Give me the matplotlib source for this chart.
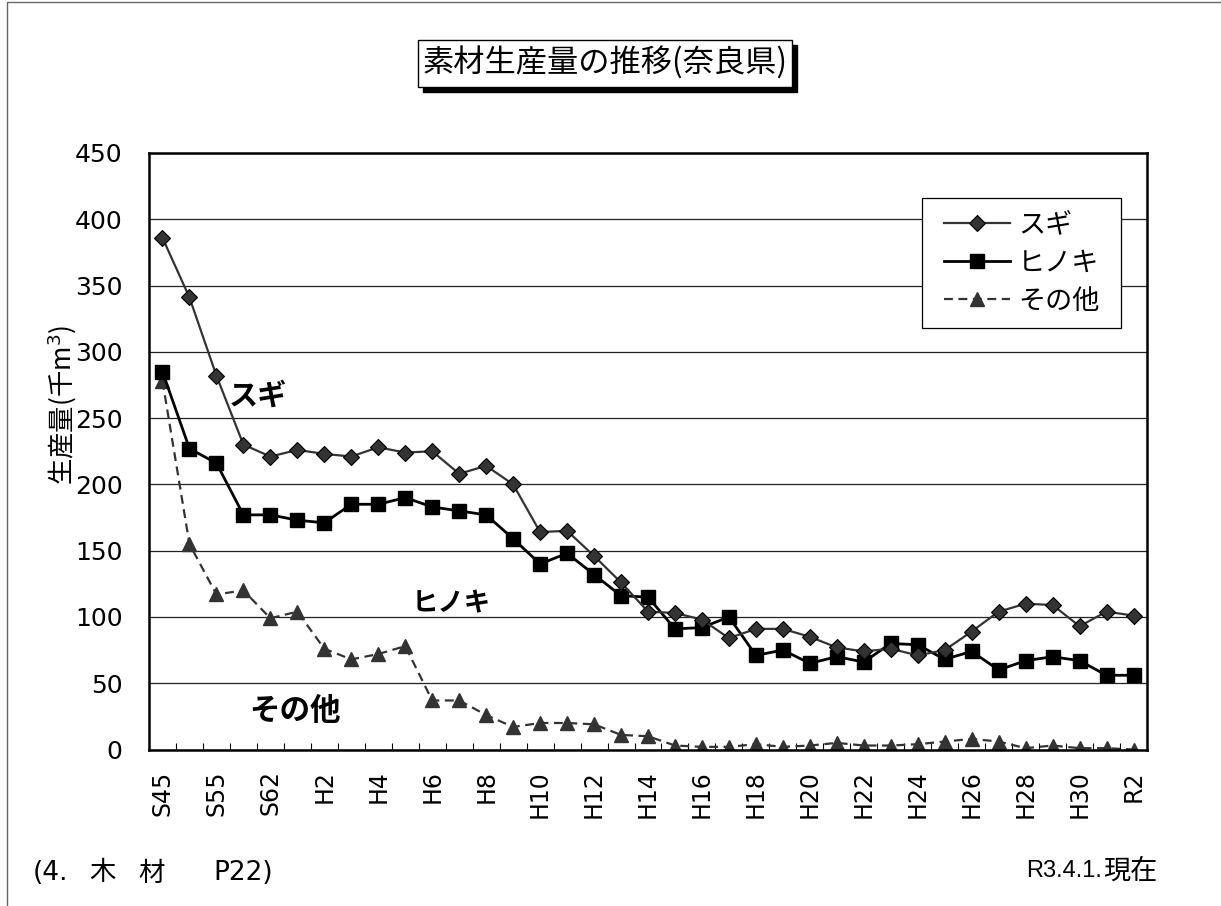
import matplotlib
matplotlib.use("Agg")
import matplotlib.pyplot as plt
from matplotlib.patches import Rectangle

plt.rcParams["font.family"] = ["DejaVu Sans", "Noto Sans CJK JP"]

W, H = 1221, 906

# 年次（ラベルは1つおきに表示）
years = ["S45", "S50", "S55", "S60", "S62", "H1", "H2", "H3", "H4", "H5",
         "H6", "H7", "H8", "H9", "H10", "H11", "H12", "H13", "H14", "H15",
         "H16", "H17", "H18", "H19", "H20", "H21", "H22", "H23", "H24", "H25",
         "H26", "H27", "H28", "H29", "H30", "R1", "R2"]

sugi = [386, 341, 282, 230, 221, 226, 223, 221, 228, 224,
        225, 208, 214, 200, 164, 165, 146, 126, 104, 103,
        98, 84, 91, 91, 85, 77, 74, 76, 71, 75,
        89, 104, 110, 109, 93, 104, 101]

hinoki = [285, 227, 216, 177, 177, 173, 171, 185, 185, 190,
          183, 180, 177, 159, 140, 148, 132, 116, 115, 91,
          92, 100, 71, 75, 65, 70, 66, 80, 79, 68,
          74, 60, 67, 70, 67, 56, 56]

sonota = [278, 155, 117, 120, 99, 104, 76, 68, 72, 78,
          37, 37, 26, 17, 20, 20, 19, 11, 10, 3,
          2, 2, 4, 2, 3, 5, 3, 3, 4, 6,
          8, 6, 1, 3, 1, 1, 0]

JP = "Noto Sans CJK JP"


def fx(x):
    return x / W


def fy(y):
    return 1 - y / H


def box(x0, y0, x1, y1, **kw):
    # rectangle given in pixel coords of the sheet (y downwards)
    fig.patches.append(Rectangle((fx(x0), fy(y1)), fx(x1) - fx(x0), fy(y0) - fy(y1),
                                 transform=fig.transFigure, **kw))


fig = plt.figure(figsize=(W / 100, H / 100), dpi=100, facecolor="white")

# outer frame of the sheet
box(7, 2, W + 10, H + 10, fill=False, edgecolor="#666666", linewidth=1.0)

ax = fig.add_axes([fx(149), fy(749.5), fx(1147) - fx(149), fy(153) - fy(749.5)])

x = list(range(len(years)))
ax.plot(x, sugi, color="#333333", linewidth=1.6, marker="D", markersize=8.5,
        markerfacecolor="#333333", markeredgecolor="black", markeredgewidth=0.8,
        label="スギ", zorder=4)
ax.plot(x, hinoki, color="black", linewidth=2.0, marker="s", markersize=10.5,
        markerfacecolor="black", markeredgecolor="black", label="ヒノキ", zorder=3)
ax.plot(x, sonota, color="#333333", linewidth=1.6, linestyle=(0, (4, 2.5)),
        marker="^", markersize=10, markerfacecolor="#333333",
        markeredgecolor="#333333", label="その他", zorder=2)

ax.set_xlim(-0.5, len(years) - 0.5)
ax.set_ylim(0, 450)
ax.set_yticks(range(0, 451, 50))
ax.yaxis.grid(True, color="#222222", linewidth=0.9)
ax.set_axisbelow(True)
ax.tick_params(axis="y", length=0, pad=19, labelsize=18)

ax.set_xticks(x[::2])
ax.set_xticklabels(years[::2], rotation=90, fontsize=17)
ax.set_xticks([i + 0.5 for i in x[:-1]], minor=True)
ax.tick_params(axis="x", which="major", length=0, pad=15)
ax.tick_params(axis="x", which="minor", direction="in", length=5, width=0.8)

for side in ["left", "bottom", "top", "right"]:
    ax.spines[side].set_linewidth(1.8)
    ax.spines[side].set_color("black")

# legend: frame drawn separately so the padding can match
box(922, 198, 1121, 328, facecolor="white", edgecolor="black", linewidth=0.9, zorder=5)
leg = ax.legend(loc="center", bbox_to_anchor=(fx(1021.5), fy(263)),
                bbox_transform=fig.transFigure, borderaxespad=0,
                prop={"family": JP, "size": 19.5}, frameon=False,
                handlelength=2.45, handletextpad=0.3, labelspacing=0.42,
                borderpad=0.2)
ax.get_legend().remove()
leg.set_zorder(6)
fig.legends.append(leg)

# series labels inside the plot
fig.text(fx(258), fy(396), "スギ", ha="center", va="center", fontsize=21,
         fontweight="bold", family=JP)
fig.text(fx(451), fy(604), "ヒノキ", ha="center", va="center", fontsize=19,
         fontweight="bold", family=JP)
fig.text(fx(295), fy(711), "その他", ha="center", va="center", fontsize=22,
         fontweight="bold", family=JP)

# y-axis label
fig.text(fx(62), fy(405), "生産量(千m$^3$)", rotation=90, ha="center", va="center",
         fontsize=19, family=[JP, "DejaVu Sans"])

# title with shadowed box
box(423, 45, 797, 92, facecolor="black", edgecolor="black", zorder=1)
box(418, 40, 792, 87, facecolor="white", edgecolor="black", linewidth=1.0, zorder=2)
fig.text(fx(605), fy(63), "素材生産量の推移(奈良県)", ha="center", va="center",
         fontsize=22.5, family=JP, zorder=3)

# footer notes
fy_note = fy(873)
fig.text(fx(33), fy_note, "(4.", ha="left", va="center", fontsize=19)
fig.text(fx(89), fy_note, "木", ha="left", va="center", fontsize=19, family=JP)
fig.text(fx(138), fy_note, "材", ha="left", va="center", fontsize=19, family=JP)
fig.text(fx(213), fy_note, "P22)", ha="left", va="center", fontsize=19)
fig.text(fx(1102), fy(871), "R3.4.1.", ha="right", va="center", fontsize=17,
         family="Liberation Sans")
fig.text(fx(1103), fy(871), "現在", ha="left", va="center", fontsize=19.5, family=JP)

fig.savefig("out.png", dpi=100, facecolor="white")
